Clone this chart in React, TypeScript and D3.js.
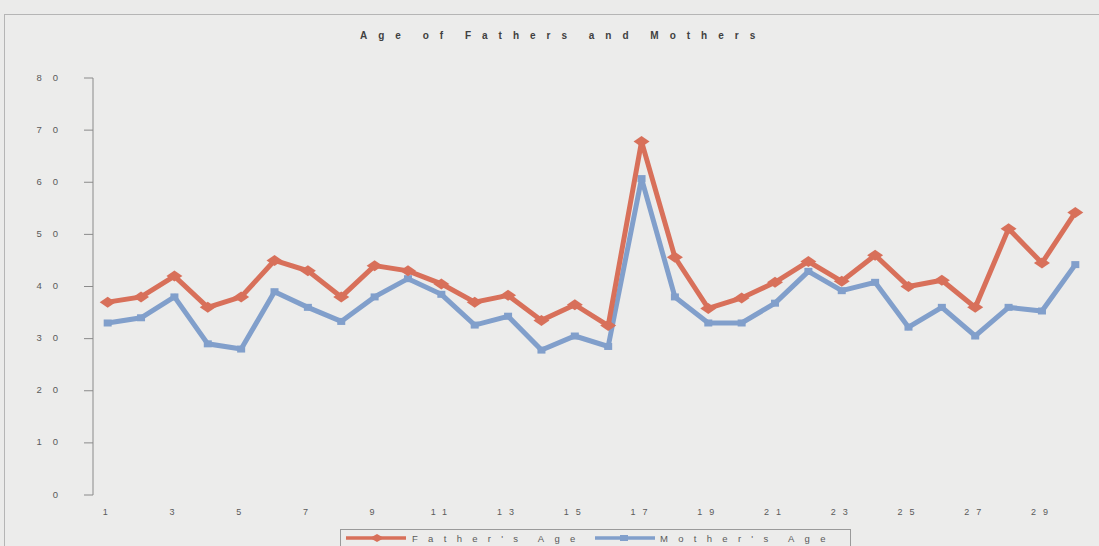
import React from "react";
import * as d3 from "d3";

const categories: number[] = Array.from({ length: 30 }, (_, i) => i + 1);
const fatherAge: number[] = [37, 38, 42, 36, 38, 45, 43, 38, 44, 43, 40.5, 37, 38.3, 33.5, 36.5, 32.5, 67.8, 45.6, 35.8, 37.8, 40.8, 44.8, 41, 46, 40, 41.2, 36, 51.1, 44.5, 54.2];
const motherAge: number[] = [33, 34, 38, 29, 28, 39, 36, 33.3, 38, 41.5, 38.5, 32.6, 34.3, 27.8, 30.5, 28.5, 60.7, 38, 33, 33, 36.8, 42.9, 39.2, 40.8, 32.2, 36, 30.5, 36, 35.3, 44.2];
const yTicks: number[] = [0, 10, 20, 30, 40, 50, 60, 70, 80];
const xTickLabels: number[] = [1, 3, 5, 7, 9, 11, 13, 15, 17, 19, 21, 23, 25, 27, 29];

const W = 1099;
const H = 546;
const FATHER = "#d8705a";
const MOTHER = "#819fcb";
const FONT = "'Liberation Sans', Arial, sans-serif";
const TXT = "#5a5a5a";

export default function App() {
  const x = d3.scaleBand<number>().domain(categories).range([91, 1092]);
  const y = d3.scaleLinear().domain([0, 80]).range([495, 78]);
  const cx = (c: number) => (x(c) as number) + x.bandwidth() / 2;
  const line = d3
    .line<number>()
    .x((_, i) => cx(categories[i]))
    .y((d) => y(d));

  return (
    <svg width={W} height={H} style={{ position: "absolute", left: 0, top: 0, background: "#ebebea" }}>
      <rect x={0} y={0} width={W} height={H} fill="#ebebea" />
      <rect x={4.5} y={14.5} width={W + 10} height={H} fill="#ececeb" stroke="#b5b5b5" strokeWidth={1} />
      <text
        x={360}
        y={39}
        fontFamily={FONT}
        fontSize={10}
        fontWeight="bold"
        fill="#404040"
        letterSpacing={11}
        wordSpacing={-3}
      >
        Age of Fathers and Mothers
      </text>

      {/* y axis */}
      <line x1={93} x2={93} y1={y(80)} y2={y(0)} stroke="#8a8a8a" strokeWidth={1} />
      {yTicks.map((t) => (
        <g key={t}>
          <line x1={84} x2={93} y1={y(t)} y2={y(t)} stroke="#8a8a8a" strokeWidth={1} />
          <text
            x={69}
            y={y(t) + 2.5}
            textAnchor="end"
            fontFamily={FONT}
            fontSize={9.5}
            fill={TXT}
            letterSpacing={11}
          >
            {String(t)}
          </text>
        </g>
      ))}

      {/* x labels */}
      {xTickLabels.map((c) => (
        <text
          key={c}
          x={cx(c) + 1}
          y={515}
          textAnchor="middle"
          fontFamily={FONT}
          fontSize={9}
          fill={TXT}
          letterSpacing={7}
        >
          {String(c)}
        </text>
      ))}

      {/* lines */}
      <path d={line(motherAge) || ""} fill="none" stroke={MOTHER} strokeWidth={5} strokeLinejoin="miter" />
      {motherAge.map((v, i) => (
        <rect key={"m" + i} x={cx(categories[i]) - 4} y={y(v) - 3.5} width={8} height={7} fill={MOTHER} />
      ))}
      <path d={line(fatherAge) || ""} fill="none" stroke={FATHER} strokeWidth={5} strokeLinejoin="miter" />
      {fatherAge.map((v, i) => {
        const px = cx(categories[i]);
        const py = y(v);
        return (
          <path
            key={"f" + i}
            d={`M${px - 8},${py} L${px},${py - 5.5} L${px + 8},${py} L${px},${py + 5.5} Z`}
            fill={FATHER}
          />
        );
      })}

      {/* legend */}
      <rect x={340.5} y={529.5} width={510} height={30} fill="#ececeb" stroke="#9a9a9a" strokeWidth={1} />
      <line x1={346} x2={406} y1={538} y2={538} stroke={FATHER} strokeWidth={3.5} />
      <path d="M370,538 L377,534 L384,538 L377,542 Z" fill={FATHER} />
      <text x={412} y={541.5} fontFamily={FONT} fontSize={9.5} fill={TXT} letterSpacing={10.3} wordSpacing={-3}>
        Father's Age
      </text>
      <line x1={595} x2={655} y1={538} y2={538} stroke={MOTHER} strokeWidth={3.5} />
      <rect x={620} y={535} width={8} height={6} fill={MOTHER} />
      <text x={660} y={541.5} fontFamily={FONT} fontSize={9.5} fill={TXT} letterSpacing={10.3} wordSpacing={-3}>
        Mother's Age
      </text>
    </svg>
  );
}
